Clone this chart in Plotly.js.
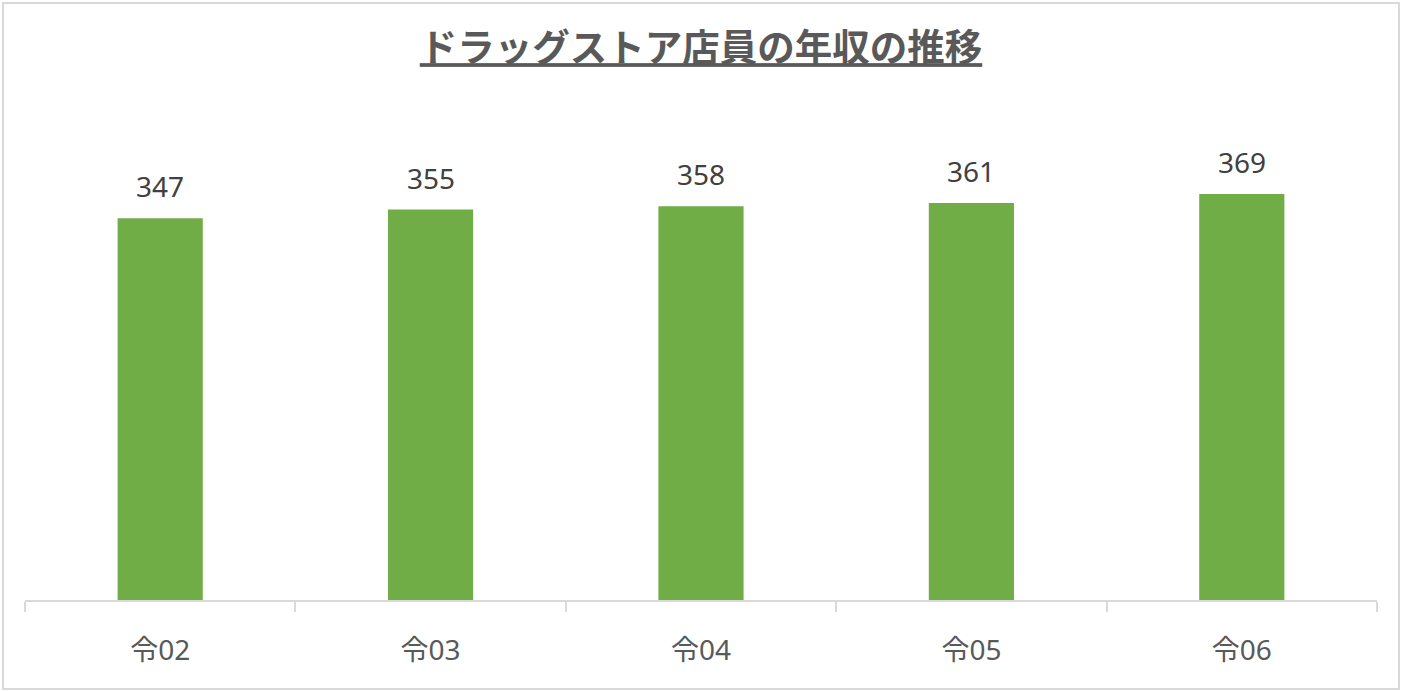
<!DOCTYPE html>
<html>
<head>
<meta charset="utf-8">
<script src="https://cdn.plot.ly/plotly-3.0.1.min.js"></script>
<style>
html,body{margin:0;padding:0;background:#fff;}
#wrap{position:relative;width:1402px;height:691px;}
#chart{width:1402px;height:691px;}
#frame{position:absolute;left:2px;top:2px;width:1394px;height:684px;border:2px solid #d9d9d9;pointer-events:none;}
</style>
</head>
<body>
<div id="wrap"><div id="chart"></div><div id="frame"></div></div>
<script>
const chartTitle = 'ドラッグストア店員の年収の推移';
const categories = ['令02', '令03', '令04', '令05', '令06'];
const salaries = [347, 355, 358, 361, 369];

const fontFam = '"Noto Sans", "Noto Sans CJK JP", sans-serif';

const trace = {
  type: 'bar',
  x: categories,
  y: salaries,
  marker: {color: '#70ad47'},
  hoverinfo: 'x+y'
};

const annotations = categories.map((c, i) => ({
  x: c, y: salaries[i], xref: 'x', yref: 'y',
  text: String(salaries[i]),
  showarrow: false,
  yanchor: 'bottom',
  yshift: 11,
  font: {family: fontFam, size: 28, color: '#404040'}
}));

const layout = {
  width: 1402, height: 691,
  margin: {l: 25, r: 25, t: 160, b: 91},
  paper_bgcolor: '#ffffff',
  plot_bgcolor: '#ffffff',
  showlegend: false,
  bargap: 0.685,
  title: {
    text: '<b>' + chartTitle + '</b>',
    x: 0.5, xanchor: 'center',
    y: 1 - 48/691, yanchor: 'middle', yref: 'container',
    font: {family: '"Noto Sans CJK JP", sans-serif', size: 37.5, color: '#595959', lineposition: 'under'}
  },
  xaxis: {
    type: 'category',
    range: [-0.5, 4.5],
    showline: true, linecolor: '#d9d9d9', linewidth: 2,
    ticks: 'outside', tickson: 'boundaries', ticklen: 10, tickcolor: '#d9d9d9', tickwidth: 1.5,
    showgrid: false,
    tickfont: {family: fontFam, size: 28, color: '#595959'},
    ticklabelstandoff: 24
  },
  yaxis: {
    range: [0, 400],
    visible: false,
    showgrid: false,
    zeroline: false
  },
  annotations: annotations
};

Plotly.newPlot('chart', [trace], layout, {displayModeBar: false});
</script>
</body>
</html>
